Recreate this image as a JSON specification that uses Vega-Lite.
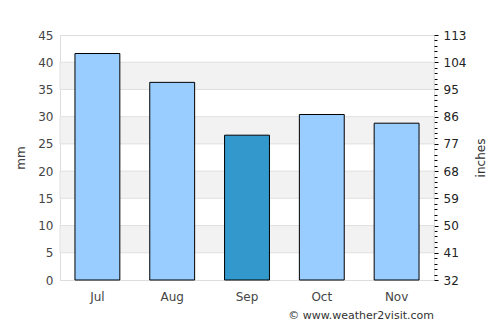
{
  "$schema": "https://vega.github.io/schema/vega-lite/v6.json",
  "autosize": "none",
  "width": 374,
  "height": 245,
  "padding": {"left": 60, "top": 35, "right": 66, "bottom": 45},
  "config": {
    "font": "DejaVu Sans",
    "view": {"stroke": "#dddddd", "strokeWidth": 1},
    "axis": {"labelFont": "DejaVu Sans", "titleFont": "DejaVu Sans", "labelFontSize": 12, "titleFontSize": 12, "titleFontWeight": "normal"}
  },
  "title": {
    "text": "© www.weather2visit.com",
    "orient": "bottom",
    "anchor": "end",
    "frame": "group",
    "fontSize": 11,
    "fontWeight": "normal",
    "color": "#333333",
    "offset": 8
  },
  "datasets": {
    "rain": [
      {"month": "Jul", "mm": 41.6, "kind": "other"},
      {"month": "Aug", "mm": 36.3, "kind": "other"},
      {"month": "Sep", "mm": 26.6, "kind": "current"},
      {"month": "Oct", "mm": 30.4, "kind": "other"},
      {"month": "Nov", "mm": 28.8, "kind": "other"}
    ],
    "bands": [
      {"from": 5, "to": 10},
      {"from": 15, "to": 20},
      {"from": 25, "to": 30},
      {"from": 35, "to": 40}
    ]
  },
  "layer": [
    {
      "data": {"name": "bands"},
      "mark": {"type": "rect", "fill": "#f2f2f2", "stroke": "#e0e0e0", "strokeWidth": 1},
      "encoding": {
        "y": {
          "field": "from", "type": "quantitative",
          "scale": {"domain": [0, 45], "nice": false},
          "axis": {
            "orient": "left", "title": "mm", "grid": false, "ticks": false, "domain": false,
            "values": [0, 5, 10, 15, 20, 25, 30, 35, 40, 45],
            "labelColor": "#444444", "labelPadding": 7, "titleColor": "#444444", "titlePadding": 10
          }
        },
        "y2": {"field": "to"}
      }
    },
    {
      "data": {"name": "rain"},
      "mark": {"type": "bar", "stroke": "#000000", "strokeWidth": 1},
      "encoding": {
        "x": {
          "field": "month", "type": "nominal", "sort": null,
          "scale": {"paddingInner": 0.4, "paddingOuter": 0.2},
          "axis": {"title": null, "ticks": false, "domain": false, "labelAngle": 0, "labelColor": "#444444", "labelPadding": 11}
        },
        "y": {
          "field": "mm", "type": "quantitative",
          "scale": {"domain": [0, 45], "nice": false},
          "axis": {
            "orient": "right", "title": "inches", "titleAngle": 270, "titleColor": "#333333", "titlePadding": 22,
            "grid": false, "domain": false,
            "values": [0,1,2,3,4,5,6,7,8,9,10,11,12,13,14,15,16,17,18,19,20,21,22,23,24,25,26,27,28,29,30,31,32,33,34,35,36,37,38,39,40,41,42,43,44,45],
            "labelOverlap": false,
            "labelExpr": "datum.value % 5 === 0 ? format(datum.value * 1.8 + 32, 'd') : ''",
            "tickColor": "#000000",
            "tickSize": {"condition": {"test": "datum.value % 5 === 0", "value": 4}, "value": 3},
            "labelPadding": 5,
            "labelColor": "#222222"
          }
        },
        "color": {
          "field": "kind", "type": "nominal",
          "scale": {"domain": ["other", "current"], "range": ["#99ccff", "#3399cc"]},
          "legend": null
        }
      }
    }
  ],
  "resolve": {"axis": {"y": "independent"}}
}
